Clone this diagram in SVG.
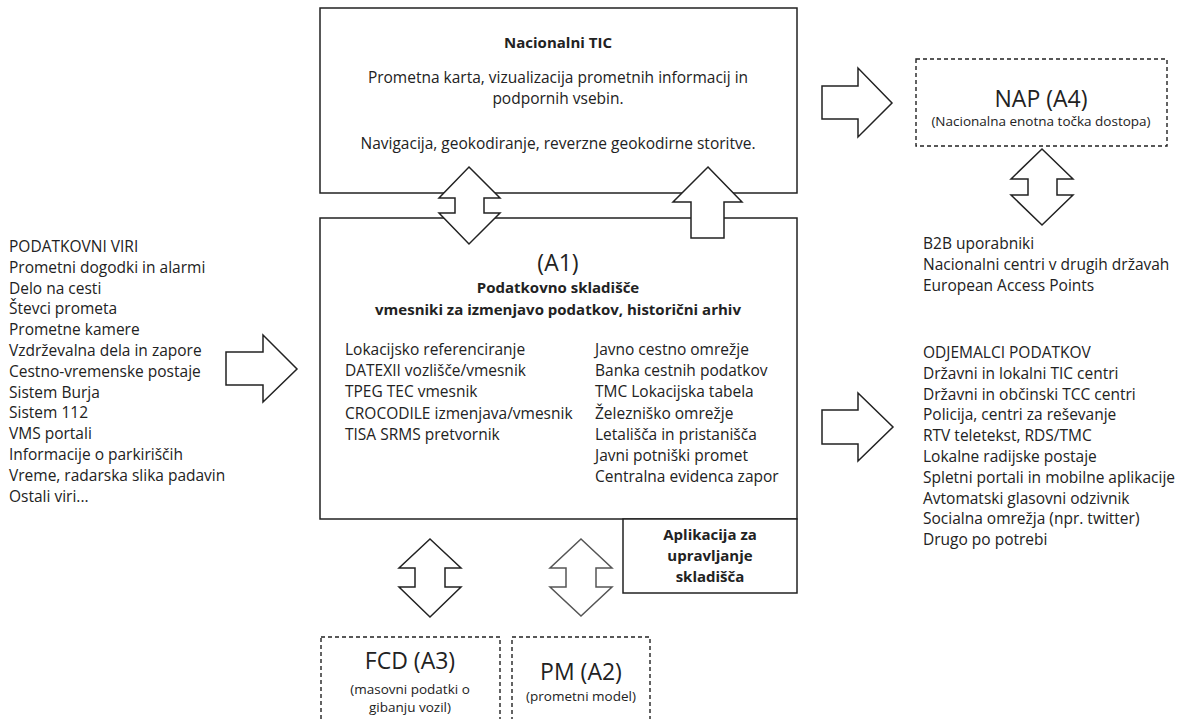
<svg xmlns="http://www.w3.org/2000/svg" width="1187" height="719" viewBox="0 0 1187 719">
<style>
text{font-family:"Open Sans","Liberation Sans",sans-serif;fill:#222}
.t{font-size:15.5px}
.b{font-size:15px;font-weight:bold}
.big{font-size:23px}
.s{font-size:13.5px}
.m{text-anchor:middle}
.box{fill:#fff;stroke:#222;stroke-width:1.5}
.dash{fill:#fff;stroke:#222;stroke-width:1.4;stroke-dasharray:4 3}
.arr{fill:#fff;stroke:#222;stroke-width:1.5;stroke-linejoin:miter}
.arrg{fill:#fff;stroke:#555;stroke-width:1.5}
</style>
<g id="tic">
<rect class="box" x="320" y="8" width="477" height="185"/>
<text class="b m" x="558" y="48">Nacionalni TIC</text>
<text class="t m" x="558" y="83">Prometna karta, vizualizacija prometnih informacij in</text>
<text class="t m" x="558" y="104">podpornih vsebin.</text>
<text class="t m" x="558" y="149">Navigacija, geokodiranje, reverzne geokodirne storitve.</text>
</g>
<g id="a1">
<rect class="box" x="320" y="218" width="477" height="301"/>
<text class="big m" x="558" y="271">(A1)</text>
<text class="b m" x="558" y="293">Podatkovno skladišče</text>
<text class="b m" x="558" y="315">vmesniki za izmenjavo podatkov, historični arhiv</text>
<text class="t" x="345" y="355">Lokacijsko referenciranje</text>
<text class="t" x="345" y="376">DATEXII vozlišče/vmesnik</text>
<text class="t" x="345" y="397">TPEG TEC vmesnik</text>
<text class="t" x="345" y="419">CROCODILE izmenjava/vmesnik</text>
<text class="t" x="345" y="440">TISA SRMS pretvornik</text>
<text class="t" x="595" y="355">Javno cestno omrežje</text>
<text class="t" x="595" y="376">Banka cestnih podatkov</text>
<text class="t" x="595" y="397">TMC Lokacijska tabela</text>
<text class="t" x="595" y="419">Železniško omrežje</text>
<text class="t" x="595" y="440">Letališča in pristanišča</text>
<text class="t" x="595" y="461">Javni potniški promet</text>
<text class="t" x="595" y="482">Centralna evidenca zapor</text>
</g>
<g id="app">
<rect class="box" x="623" y="519" width="174" height="74"/>
<text class="b m" x="710" y="540">Aplikacija za</text>
<text class="b m" x="710" y="561">upravljanje</text>
<text class="b m" x="710" y="582">skladišča</text>
</g>
<g id="nap">
<rect class="dash" x="916" y="59" width="251" height="87"/>
<text class="big m" x="1041" y="107">NAP (A4)</text>
<text class="s m" x="1041" y="126">(Nacionalna enotna točka dostopa)</text>
</g>
<g id="fcd">
<rect class="dash" x="321" y="637" width="179" height="100"/>
<text class="big m" x="410" y="669">FCD (A3)</text>
<text class="s m" x="410" y="694">(masovni podatki o</text>
<text class="s m" x="410" y="712">gibanju vozil)</text>
</g>
<g id="pm">
<rect class="dash" x="512" y="637" width="138" height="100"/>
<text class="big m" x="581" y="680">PM (A2)</text>
<text class="s m" x="581" y="701">(prometni model)</text>
</g>
<g id="viri">
<text class="t" x="9" y="252">PODATKOVNI VIRI</text>
<text class="t" x="9" y="272.8">Prometni dogodki in alarmi</text>
<text class="t" x="9" y="293.6">Delo na cesti</text>
<text class="t" x="9" y="314.4">Števci prometa</text>
<text class="t" x="9" y="335.2">Prometne kamere</text>
<text class="t" x="9" y="356">Vzdrževalna dela in zapore</text>
<text class="t" x="9" y="376.8">Cestno-vremenske postaje</text>
<text class="t" x="9" y="397.6">Sistem Burja</text>
<text class="t" x="9" y="418.4">Sistem 112</text>
<text class="t" x="9" y="439.2">VMS portali</text>
<text class="t" x="9" y="460">Informacije o parkiriščih</text>
<text class="t" x="9" y="480.8">Vreme, radarska slika padavin</text>
<text class="t" x="9" y="501.6">Ostali viri...</text>
</g>
<g id="b2b">
<text class="t" x="923" y="249">B2B uporabniki</text>
<text class="t" x="923" y="270">Nacionalni centri v drugih državah</text>
<text class="t" x="923" y="291">European Access Points</text>
</g>
<g id="odjemalci">
<text class="t" x="923" y="358">ODJEMALCI PODATKOV</text>
<text class="t" x="923" y="378.8">Državni in lokalni TIC centri</text>
<text class="t" x="923" y="399.6">Državni in občinski TCC centri</text>
<text class="t" x="923" y="420.4">Policija, centri za reševanje</text>
<text class="t" x="923" y="441.2">RTV teletekst, RDS/TMC</text>
<text class="t" x="923" y="462">Lokalne radijske postaje</text>
<text class="t" x="923" y="482.8">Spletni portali in mobilne aplikacije</text>
<text class="t" x="923" y="503.6">Avtomatski glasovni odzivnik</text>
<text class="t" x="923" y="524.4">Socialna omrežja (npr. twitter)</text>
<text class="t" x="923" y="545.2">Drugo po potrebi</text>
</g>
<g id="connectors">
<path class="arr" d="M469,167 L500,198 L484,198 L484,213 L500,213 L469,244 L439,213 L455,213 L455,198 L439,198 Z"/>
<path class="arr" d="M708,167 L742,202 L724,202 L724,238 L691,238 L691,202 L673,202 Z"/>
<path class="arr" d="M822,86 L858,86 L858,68 L892,103 L858,137 L858,119 L822,119 Z"/>
<path class="arr" d="M1042,149 L1073,179 L1057,179 L1057,195 L1073,195 L1042,225 L1011,195 L1028,195 L1028,179 L1011,179 Z"/>
<path class="arr" d="M226,352 L263,352 L263,335 L297,369 L263,402 L263,385 L226,385 Z"/>
<path class="arr" d="M822,410 L858,410 L858,393 L893,427 L858,461 L858,444 L822,444 Z"/>
<path class="arr" d="M430,539 L461,568 L445,568 L445,587 L461,587 L430,617 L399,587 L415,587 L415,568 L399,568 Z"/>
<path class="arrg" d="M581,539 L612,568 L596,568 L596,587 L612,587 L581,616 L550,587 L566,587 L566,568 L550,568 Z"/>
</g>
</svg>
